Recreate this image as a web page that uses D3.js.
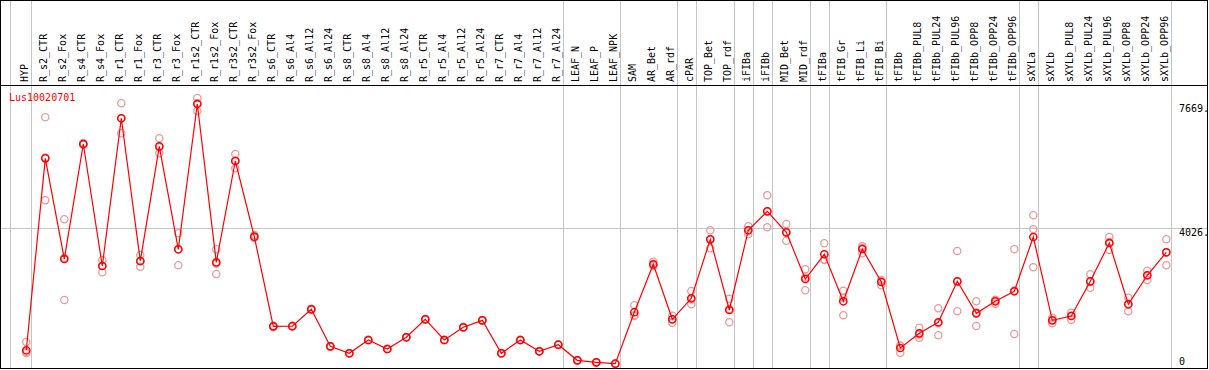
<!DOCTYPE html>
<html>
<head>
<meta charset="utf-8">
<script src="https://cdn.jsdelivr.net/npm/d3@7"></script>
<style>
  body { margin: 0; background: #fff; }
  svg { display: block; }
  text { font-family: "DejaVu Sans Mono", monospace; font-size: 10px; }
</style>
</head>
<body>
<svg id="chart"></svg>
<script>
/*Sample names, left to right*/
const categories = ["HYP","R_s2_CTR","R_s2_Fox","R_s4_CTR","R_s4_Fox","R_r1_CTR","R_r1_Fox","R_r3_CTR","R_r3_Fox",
  "R_r1s2_CTR","R_r1s2_Fox","R_r3s2_CTR","R_r3s2_Fox","R_s6_CTR","R_s6_Al4","R_s6_Al12","R_s6_Al24",
  "R_s8_CTR","R_s8_Al4","R_s8_Al12","R_s8_Al24","R_r5_CTR","R_r5_Al4","R_r5_Al12","R_r5_Al24",
  "R_r7_CTR","R_r7_Al4","R_r7_Al12","R_r7_Al24","LEAF_N","LEAF_P","LEAF_NPK","SAM","AR_Bet","AR_rdf",
  "cPAR","TOP_Bet","TOP_rdf","iFIBa","iFIBb","MID_Bet","MID_rdf","tFIBa","tFIB_Gr","tFIB_Li","tFIB_Bi",
  "tFIBb","tFIBb_PUL8","tFIBb_PUL24","tFIBb_PUL96","tFIBb_OPP8","tFIBb_OPP24","tFIBb_OPP96",
  "sXYLa","sXYLb","sXYLb_PUL8","sXYLb_PUL24","sXYLb_PUL96","sXYLb_OPP8","sXYLb_OPP24","sXYLb_OPP96"];

/*Mean expression per sample*/
const meanValues = [432,6073,3114,6494,2909,7249,3056,6426,3400,7669,3017,5994,3770,
  1137,1140,1637,549,344,735,470,814,1343,735,1108,1313,344,735,403,596,
  138,79,38,
  1551,2959,1343,1960,3693,1616,3958,4516,3899,2527,3253,1872,3408,2439,
  500,931,1255,2459,1519,1872,2166,
  3761,1313,1440,2459,3585,1784,2636,3311];

/*Replicate values per sample*/
const replicateValues = [
  [676,382,353],[7278,4839,6100],[4281,1910,3151],[6494,6520,6470],[3085,2724,2918],
  [7689,6808,7250],[3232,2888,3048],[6661,6220,6397],[3870,2929,3401],[7845,7463,7699],
  [3400,2674,2977],[6200,5780,6002],[3820,3732,3758],
  [1150,1120,1141],[1155,1128,1137],[1650,1620,1641],[560,540,547],
  [352,338,342],[745,726,734],[478,462,470],[825,805,812],
  [1355,1330,1344],[744,728,733],[1118,1097,1109],[1322,1302,1315],
  [351,336,345],[742,728,735],[410,396,403],[604,588,596],
  [145,131,138],[85,73,79],[44,33,37],
  [1754,1440,1459],[3035,2930,2912],[1449,1243,1337],[2174,1784,1922],[3958,3429,3692],
  [1948,1255,1645],[4075,3840,3959],[4986,4046,4516],[4143,3652,3902],[2812,2195,2574],
  [3576,3085,3098],[2183,1460,1973],[3497,3282,3445],[2477,2342,2498],
  [567,361,572],[1096,802,895],[1666,873,1226],[3350,1578,2449],[1872,1146,1539],
  [1901,1801,1914],[3400,911,2187],
  [4399,3987,2871],[1390,1225,1324],[1537,1331,1452],[2665,2271,2441],[3761,3379,3615],
  [1977,1578,1797],[2771,2497,2640],[3693,2929,3311]];

/*Group separators are drawn after these samples*/
const groupEnds = ["HYP","R_r7_Al24","LEAF_NPK","AR_rdf","cPAR","TOP_rdf","iFIBa","iFIBb",
  "MID_rdf","tFIBa","tFIB_Bi","tFIBb_OPP96","sXYLa","sXYLb_OPP96"];

/*Right hand tick labels*/
const tickValues = [7669, 4026, 0];
const tickLabels = ["7669.", "4026.", "0"];
const geneName = "Lus10020701";

/*Set up SVG canvas*/
const chartWidth = 1209;
const chartHeight = 370;
const headerBottom = 85;
const plotBottom = 368;

const svg = d3.select("#chart")
       .attr("width", chartWidth)
       .attr("height", chartHeight);

const x = d3.scalePoint()
       .domain(categories)
       .range([26.3, 1166.3]);

const y = d3.scaleLinear()
       .domain([0, 7669])
       .range([365, 104]);

/*grey gridline at middle tick*/
svg.append("line")
       .attr("x1", 1).attr("x2", 1207)
       .attr("y1", Math.round(y(4026)) + 0.5).attr("y2", Math.round(y(4026)) + 0.5)
       .attr("stroke", "#c4c4c4");

/*grey vertical group separators*/
const sepX = [10].concat(groupEnds.map(d => x(d) + 4.5));
svg.selectAll(".sep")
       .data(sepX)
       .enter()
       .append("line")
       .attr("class", "sep")
       .attr("x1", d => Math.round(d) + 0.5)
       .attr("x2", d => Math.round(d) + 0.5)
       .attr("y1", 0)
       .attr("y2", plotBottom)
       .attr("stroke", "#c4c4c4");

/*frame + header divider*/
svg.append("rect")
       .attr("x", 0.5).attr("y", 0.5)
       .attr("width", 1207).attr("height", plotBottom)
       .attr("fill", "none")
       .attr("stroke", "#000");
svg.append("line")
       .attr("x1", 0).attr("x2", 1208)
       .attr("y1", headerBottom + 0.5).attr("y2", headerBottom + 0.5)
       .attr("stroke", "#000");

/*rotated sample labels*/
svg.selectAll(".catLabel")
       .data(categories)
       .enter()
       .append("text")
       .attr("class", "catLabel")
       .attr("transform", d => "translate(" + (x(d) + 2) + "," + 82 + ") rotate(-90)")
       .attr("fill", "#000")
       .text(d => d);

/*replicate circles*/
const reps = [];
replicateValues.forEach((vals, i) => {
       vals.forEach(v => reps.push({cat: categories[i], v: v}));
});
svg.selectAll(".rep")
       .data(reps)
       .enter()
       .append("circle")
       .attr("class", "rep")
       .attr("cx", d => x(d.cat))
       .attr("cy", d => y(d.v))
       .attr("r", 3.6)
       .attr("fill", "none")
       .attr("stroke", "#ea9a9a")
       .attr("stroke-width", 1.3);

/*mean line*/
const line = d3.line()
       .x((d, i) => x(categories[i]))
       .y(d => y(d));
svg.append("path")
       .datum(meanValues)
       .attr("d", line)
       .attr("fill", "none")
       .attr("stroke", "#ff0000")
       .attr("stroke-width", 1.2);

svg.selectAll(".mean")
       .data(meanValues)
       .enter()
       .append("circle")
       .attr("class", "mean")
       .attr("cx", (d, i) => x(categories[i]))
       .attr("cy", d => y(d))
       .attr("r", 3.6)
       .attr("fill", "none")
       .attr("stroke", "#ff0000")
       .attr("stroke-width", 1.5);

/*gene name*/
svg.append("text")
       .attr("x", 9)
       .attr("y", 101)
       .attr("fill", "#ff0000")
       .text(geneName);

/*right hand value labels*/
svg.selectAll(".tick")
       .data(tickValues)
       .enter()
       .append("text")
       .attr("class", "tick")
       .attr("x", 1179)
       .attr("y", (d, i) => d === 0 ? y(d) : y(d) + 8)
       .attr("fill", "#000")
       .text((d, i) => tickLabels[i]);
</script>
</body>
</html>
